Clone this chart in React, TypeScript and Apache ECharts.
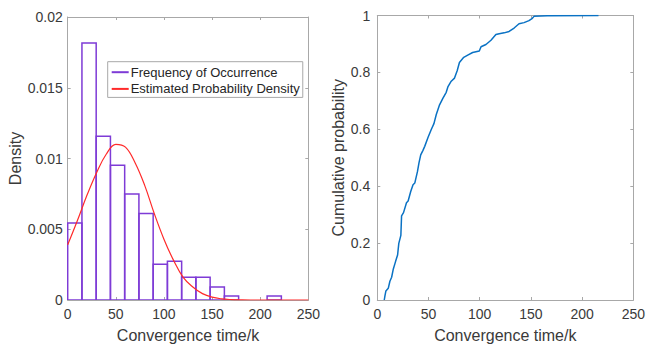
import React, { useEffect, useRef } from "react";
import * as echarts from "echarts";

// Histogram (density)
const histEdges = [0, 14.8, 29.6, 44.4, 59.2, 74.0, 88.8, 103.6, 118.4, 133.2, 148.0, 162.8, 177.6, 192.4, 207.2, 222.0];
const histDensity = [0.00545, 0.01817, 0.01158, 0.00953, 0.00749, 0.00611, 0.00252, 0.00273, 0.00161, 0.00161, 0.00092, 0.00028, 0, 0, 0.00028];

// Estimated probability density curve (read points)
const pdfX = [0, 10, 20, 30, 40, 50, 60, 70, 80, 90, 100, 110, 120, 130, 140, 150, 160, 170, 180, 190, 200, 210, 220, 230, 240, 250];
const pdfY = [0.0039, 0.0056, 0.0074, 0.009, 0.0103, 0.011, 0.0108, 0.0097, 0.0081, 0.0061, 0.0043, 0.0028, 0.0016, 0.00092, 0.00045, 0.0002, 0.00008, 0.00003, 0.00001, 0, 0, 0, 0, 0, 0, 0];

// Empirical cumulative probability (right panel)
const cdfX = [6.8, 7.5, 8.4, 10.7, 12.3, 14.0, 15.5, 17.8, 19.8, 21.0, 23.0, 23.7, 25.6, 28.5, 30.1, 32.7, 34.9, 36.6, 39.2, 40.7, 42.4, 44.6, 46.3, 49.5, 52.8, 55.3, 57.6, 60.8, 64.0, 67.3, 68.9, 72.2, 75.4, 78.0, 80.2, 84.4, 88.3, 93.1, 99.6, 101.3, 106.1, 111.0, 115.8, 119.0, 123.9, 128.7, 133.6, 138.4, 143.3, 148.1, 151.4, 153.0, 165.9, 216.0];
const cdfP = [0, 0.015, 0.032, 0.041, 0.066, 0.08, 0.107, 0.135, 0.158, 0.199, 0.227, 0.296, 0.307, 0.342, 0.348, 0.382, 0.405, 0.411, 0.451, 0.482, 0.51, 0.526, 0.54, 0.571, 0.6, 0.62, 0.652, 0.686, 0.709, 0.73, 0.749, 0.769, 0.78, 0.806, 0.835, 0.853, 0.861, 0.87, 0.875, 0.89, 0.898, 0.913, 0.933, 0.936, 0.939, 0.944, 0.956, 0.971, 0.975, 0.982, 0.99, 0.997, 0.999, 1.0];

const legendNames = ["Frequency of Occurrence", "Estimated Probability Density"];
const xTitle = "Convergence time/k";
const leftYTitle = "Density";
const rightYTitle = "Cumulative probability";

const FONT = "'Liberation Sans', Arial, Helvetica, sans-serif";
const PURPLE = "#7e3bd6";
const RED = "#ff2a2a";
const BLUE = "#0a72c4";
const BOX = "#a8a8a8";
const TXT = "#3a3a3a";

function axisPair(
  gridIndex: number,
  min: number,
  max: number,
  interval: number,
  isX: boolean,
  name: string,
  nameGap: number,
  labelMargin: number
) {
  const common = {
    gridIndex,
    type: "value",
    min,
    max,
    interval,
    splitLine: { show: false },
    axisLine: { show: true, onZero: false, lineStyle: { color: BOX, width: 1 } },
    axisTick: { show: true, inside: true, length: 3, lineStyle: { color: BOX, width: 1 } },
  };
  const main = {
    ...common,
    position: isX ? "bottom" : "left",
    name,
    nameLocation: "middle",
    nameGap,
    nameTextStyle: { fontFamily: FONT, fontSize: 16, color: TXT },
    axisLabel: { show: true, fontFamily: FONT, fontSize: 14, color: TXT, margin: labelMargin },
  };
  const mirror = {
    ...common,
    position: isX ? "top" : "right",
    axisLabel: { show: false },
  };
  return [main, mirror];
}

export default function App() {
  const ref = useRef<HTMLDivElement>(null);

  useEffect(() => {
    document.body.style.margin = "0";
    if (!ref.current) return;
    const chart = echarts.init(ref.current, undefined, { renderer: "svg" });

    const histData = histDensity
      .map((d, i) => [histEdges[i], histEdges[i + 1], d])
      .filter((r) => r[2] > 0);

    const [lx, lx2] = axisPair(0, 0, 250, 50, true, xTitle, 27, 7);
    const [ly, ly2] = axisPair(0, 0, 0.02, 0.005, false, leftYTitle, 42, 5);
    const [rx, rx2] = axisPair(1, 0, 250, 50, true, xTitle, 27, 7);
    const [ry, ry2] = axisPair(1, 0, 1, 0.2, false, rightYTitle, 24, 7);

    chart.setOption({
      animation: false,
      backgroundColor: "#ffffff",
      textStyle: { fontFamily: FONT },
      grid: [
        { left: 67.7, top: 17, width: 240.6, height: 290, containLabel: false },
        { left: 377.3, top: 15.5, width: 257.7, height: 290.5, containLabel: false },
      ],
      xAxis: [lx, lx2, rx, rx2],
      yAxis: [ly, ly2, ry, ry2],
      legend: {
        orient: "vertical",
        left: 107.7,
        top: 61.7,
        backgroundColor: "#ffffff",
        borderColor: BOX,
        borderWidth: 1,
        borderRadius: 0,
        padding: [3.5, 3, 1.5, 4],
        itemWidth: 17,
        itemHeight: 2,
        itemGap: 2.7,
        textStyle: { fontFamily: FONT, fontSize: 13, color: "#262626", lineHeight: 14, padding: [0, 0, 0, -3] },
        data: [
          { name: legendNames[0], icon: "rect", itemStyle: { color: PURPLE, borderWidth: 0 } },
          { name: legendNames[1], icon: "rect", itemStyle: { color: RED, borderWidth: 0 } },
        ],
      },
      series: [
        {
          name: legendNames[0],
          type: "custom",
          xAxisIndex: 0,
          yAxisIndex: 0,
          clip: true,
          itemStyle: { color: PURPLE },
          encode: { x: [0, 1], y: 2 },
          data: histData,
          renderItem: (params: any, api: any) => {
            const p0 = api.coord([api.value(0), api.value(2)]);
            const p1 = api.coord([api.value(1), 0]);
            return {
              type: "rect",
              shape: { x: p0[0], y: p0[1], width: p1[0] - p0[0], height: p1[1] - p0[1] },
              style: { fill: "none", stroke: PURPLE, lineWidth: 1.5 },
            };
          },
        },
        {
          name: legendNames[1],
          type: "line",
          xAxisIndex: 0,
          yAxisIndex: 0,
          data: pdfX.map((x, i) => [x, pdfY[i]]),
          smooth: 0.4,
          showSymbol: false,
          symbol: "none",
          lineStyle: { color: RED, width: 1.2 },
          itemStyle: { color: RED },
        },
        {
          name: "cdf",
          type: "line",
          xAxisIndex: 2,
          yAxisIndex: 2,
          data: cdfX.map((x, i) => [x, cdfP[i]]),
          showSymbol: false,
          symbol: "none",
          lineStyle: { color: BLUE, width: 1.5 },
        },
      ],
    });

    return () => chart.dispose();
  }, []);

  return <div ref={ref} style={{ width: 648, height: 348 }} />;
}
